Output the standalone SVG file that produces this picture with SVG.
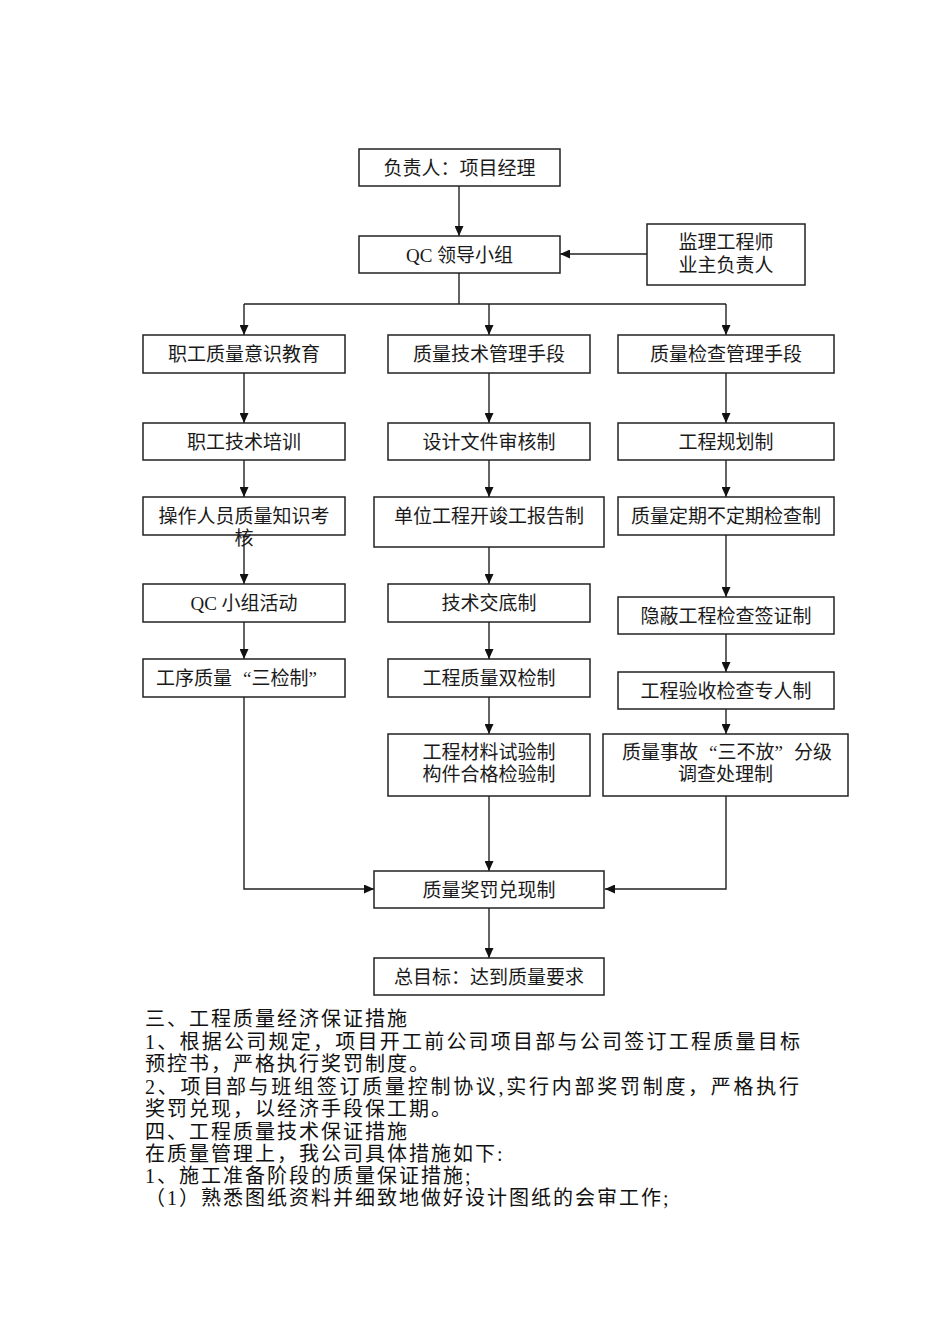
<svg xmlns="http://www.w3.org/2000/svg" width="950" height="1344" viewBox="0 0 950 1344">
<style>
.box{fill:#fff;stroke:#222;stroke-width:1.5}
.t{font-family:"Liberation Serif","Noto Sans CJK SC",serif;font-size:19px;fill:#1a1a1a;text-anchor:middle}
.s{text-anchor:start}
.p{font-family:"Liberation Serif","Noto Sans CJK SC",serif;font-size:20px;letter-spacing:2px;fill:#111}
.c{fill:none;stroke:#222;stroke-width:1.4}
</style>
<defs>
<marker id="ah" markerUnits="userSpaceOnUse" markerWidth="10" markerHeight="9" refX="10" refY="4.5" orient="auto">
<path d="M0,0 L10,4.5 L0,9 z" fill="#111"/>
</marker>
</defs>
<rect width="950" height="1344" fill="#fff"/>

<g id="connectors">
<path class="c" d="M459,186 V236" marker-end="url(#ah)"/>
<path class="c" d="M647,254 H560" marker-end="url(#ah)"/>
<path class="c" d="M459,273 V304 M244,304 H726"/>
<path class="c" d="M244,304 V335" marker-end="url(#ah)"/>
<path class="c" d="M489,304 V335" marker-end="url(#ah)"/>
<path class="c" d="M726,304 V335" marker-end="url(#ah)"/>
<path class="c" d="M244,373 V423" marker-end="url(#ah)"/>
<path class="c" d="M244,460 V497" marker-end="url(#ah)"/>
<path class="c" d="M244,535 V584" marker-end="url(#ah)"/>
<path class="c" d="M244,622 V659" marker-end="url(#ah)"/>
<path class="c" d="M244,697 V889 H374" marker-end="url(#ah)"/>
<path class="c" d="M489,373 V423" marker-end="url(#ah)"/>
<path class="c" d="M489,460 V497" marker-end="url(#ah)"/>
<path class="c" d="M489,547 V584" marker-end="url(#ah)"/>
<path class="c" d="M489,622 V659" marker-end="url(#ah)"/>
<path class="c" d="M489,697 V734" marker-end="url(#ah)"/>
<path class="c" d="M489,796 V871" marker-end="url(#ah)"/>
<path class="c" d="M489,908 V958" marker-end="url(#ah)"/>
<path class="c" d="M726,373 V423" marker-end="url(#ah)"/>
<path class="c" d="M726,460 V497" marker-end="url(#ah)"/>
<path class="c" d="M726,535 V597" marker-end="url(#ah)"/>
<path class="c" d="M726,634 V672" marker-end="url(#ah)"/>
<path class="c" d="M726,709 V734" marker-end="url(#ah)"/>
<path class="c" d="M726,796 V889 H605" marker-end="url(#ah)"/>
</g>

<g id="n1"><rect class="box" x="359" y="149" width="201" height="37"/><text class="t" x="459.5" y="174.5">负责人：项目经理</text></g>
<g id="n2"><rect class="box" x="359" y="236" width="201" height="37"/><text class="t" x="459.5" y="261.5">QC 领导小组</text></g>
<g id="n3"><rect class="box" x="647" y="224" width="158" height="61"/><text class="t" x="726" y="249">监理工程师</text><text class="t" x="726" y="272">业主负责人</text></g>

<g id="c1a"><rect class="box" x="143" y="335" width="202" height="38"/><text class="t" x="244" y="361">职工质量意识教育</text></g>
<g id="c1b"><rect class="box" x="143" y="423" width="202" height="37"/><text class="t" x="244" y="448.5">职工技术培训</text></g>
<g id="c1c"><rect class="box" x="143" y="497" width="202" height="38"/><text class="t" x="244" y="523">操作人员质量知识考</text><text class="t" x="244" y="545">核</text></g>
<g id="c1d"><rect class="box" x="143" y="584" width="202" height="38"/><text class="t" x="244" y="610">QC 小组活动</text></g>
<g id="c1e"><rect class="box" x="143" y="659" width="202" height="38"/><text class="t s" x="156" y="685">工序质量<tspan dx="11">“</tspan>三检制”</text></g>

<g id="c2a"><rect class="box" x="388" y="335" width="202" height="38"/><text class="t" x="489" y="361">质量技术管理手段</text></g>
<g id="c2b"><rect class="box" x="388" y="423" width="202" height="37"/><text class="t" x="489" y="448.5">设计文件审核制</text></g>
<g id="c2c"><rect class="box" x="374" y="497" width="230" height="50"/><text class="t" x="489" y="523">单位工程开竣工报告制</text></g>
<g id="c2d"><rect class="box" x="388" y="584" width="202" height="38"/><text class="t" x="489" y="610">技术交底制</text></g>
<g id="c2e"><rect class="box" x="388" y="659" width="202" height="38"/><text class="t" x="489" y="685">工程质量双检制</text></g>
<g id="c2f"><rect class="box" x="388" y="734" width="202" height="62"/><text class="t" x="489" y="759">工程材料试验制</text><text class="t" x="489" y="781">构件合格检验制</text></g>
<g id="c2g"><rect class="box" x="374" y="871" width="230" height="37"/><text class="t" x="489" y="896.5">质量奖罚兑现制</text></g>
<g id="c2h"><rect class="box" x="374" y="958" width="230" height="37"/><text class="t" x="489" y="983.5">总目标：达到质量要求</text></g>

<g id="c3a"><rect class="box" x="618" y="335" width="216" height="38"/><text class="t" x="726" y="361">质量检查管理手段</text></g>
<g id="c3b"><rect class="box" x="618" y="423" width="216" height="37"/><text class="t" x="726" y="448.5">工程规划制</text></g>
<g id="c3c"><rect class="box" x="618" y="497" width="216" height="38"/><text class="t" x="726" y="523">质量定期不定期检查制</text></g>
<g id="c3d"><rect class="box" x="618" y="597" width="216" height="37"/><text class="t" x="726" y="622.5">隐蔽工程检查签证制</text></g>
<g id="c3e"><rect class="box" x="618" y="672" width="216" height="37"/><text class="t" x="726" y="697.5">工程验收检查专人制</text></g>
<g id="c3f"><rect class="box" x="603" y="734" width="245" height="62"/><text class="t s" x="622" y="759">质量事故<tspan dx="11">“</tspan>三不放”<tspan dx="11">分级</tspan></text><text class="t" x="725.5" y="781">调查处理制</text></g>

<g id="text">
<text class="p" x="145" y="1026">三、工程质量经济保证措施</text>
<text class="p" x="145" y="1048.5" textLength="657" lengthAdjust="spacing">1、根据公司规定，项目开工前公司项目部与公司签订工程质量目标</text>
<text class="p" x="145" y="1071">预控书，严格执行奖罚制度。</text>
<text class="p" x="145" y="1093.5" textLength="656" lengthAdjust="spacing">2、项目部与班组签订质量控制协议,实行内部奖罚制度，严格执行</text>
<text class="p" x="145" y="1115.5">奖罚兑现，以经济手段保工期。</text>
<text class="p" x="145" y="1138.5">四、工程质量技术保证措施</text>
<text class="p" x="145" y="1160.5">在质量管理上，我公司具体措施如下:</text>
<text class="p" x="145" y="1183">1、施工准备阶段的质量保证措施;</text>
<text class="p" x="145" y="1205">（1）熟悉图纸资料并细致地做好设计图纸的会审工作;</text>
</g>
</svg>
